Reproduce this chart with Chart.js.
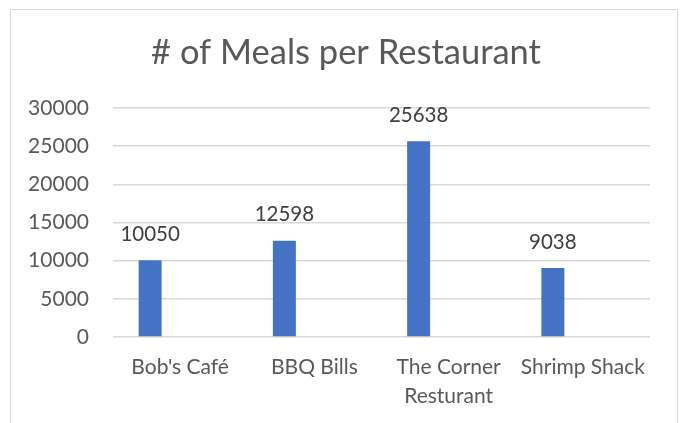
<!DOCTYPE html>
<html>
<head>
<meta charset="utf-8">
<script src="https://cdn.jsdelivr.net/npm/chart.js@4.4.1/dist/chart.umd.min.js"></script>
<style>
  html, body { margin: 0; padding: 0; background: #fff; }
  #frame {
    position: absolute; left: 10px; top: 9px;
    width: 666px; height: 500px;
    border: 1px solid #d9d9d9;
  }
  #chart { position: absolute; left: 0; top: 0; }
</style>
</head>
<body>
<div id="frame"></div>
<canvas id="chart" width="683" height="423"></canvas>
<script>
// Meals per restaurant (Excel-style clustered column, 2nd series empty)
const chartTitle = '# of Meals per Restaurant';
const restaurants = ["Bob's Café", 'BBQ Bills', ['The Corner', 'Resturant'], 'Shrimp Shack'];
const meals = [10050, 12598, 25638, 9038];
const emptySeries = [null, null, null, null];
const yTicks = [0, 5000, 10000, 15000, 20000, 25000, 30000];

const FONT = "Lato, 'Open Sans', sans-serif";

// value labels above each bar
const barLabels = {
  id: 'barLabels',
  afterDatasetsDraw(chart) {
    const ctx = chart.ctx;
    const meta = chart.getDatasetMeta(0);
    ctx.save();
    ctx.font = '20.5px ' + FONT;
    ctx.fillStyle = '#404040';
    ctx.textAlign = 'center';
    ctx.textBaseline = 'middle';
    meta.data.forEach((bar, i) => {
      ctx.fillText(String(meals[i]), bar.x, bar.y - 26);
    });
    ctx.restore();
  }
};

// title centred on the chart frame (not on the plot box)
const frameTitle = {
  id: 'frameTitle',
  afterDraw(chart) {
    const ctx = chart.ctx;
    ctx.save();
    ctx.font = '34.5px ' + FONT;
    ctx.fillStyle = '#595959';
    ctx.textAlign = 'center';
    ctx.textBaseline = 'middle';
    ctx.fillText(chartTitle, 346, 53);
    ctx.restore();
  }
};

new Chart(document.getElementById('chart'), {
  type: 'bar',
  data: {
    labels: restaurants,
    datasets: [
      {
        label: 'Meals',
        data: meals,
        backgroundColor: '#4472c4',
        categoryPercentage: 0.894,
        barPercentage: 0.383
      },
      {
        label: '',
        data: emptySeries,
        backgroundColor: '#ed7d31',
        categoryPercentage: 0.894,
        barPercentage: 0.383
      }
    ]
  },
  options: {
    responsive: false,
    animation: false,
    layout: { padding: { left: 0, right: 33, top: 108, bottom: 0 } },
    plugins: {
      legend: { display: false },
      tooltip: { enabled: false },
      title: { display: false }
    },
    scales: {
      x: {
        afterFit(scale) { scale.height = 86; },
        grid: { display: false, drawTicks: false },
        border: { display: false },
        ticks: {
          color: '#595959',
          padding: 16,
          maxRotation: 0,
          autoSkip: false,
          font: { family: FONT, size: 21, lineHeight: 1.38 }
        }
      },
      y: {
        min: 0,
        max: 30000,
        afterFit(scale) { scale.width = 113; },
        afterBuildTicks(scale) { scale.ticks = yTicks.map(v => ({ value: v })); },
        grid: { color: '#d9d9d9', lineWidth: 1.5, drawTicks: false },
        border: { display: false },
        ticks: {
          color: '#595959',
          padding: 24,
          callback: v => String(v),
          font: { family: FONT, size: 21 }
        }
      }
    }
  },
  plugins: [barLabels, frameTitle]
});
</script>
</body>
</html>
